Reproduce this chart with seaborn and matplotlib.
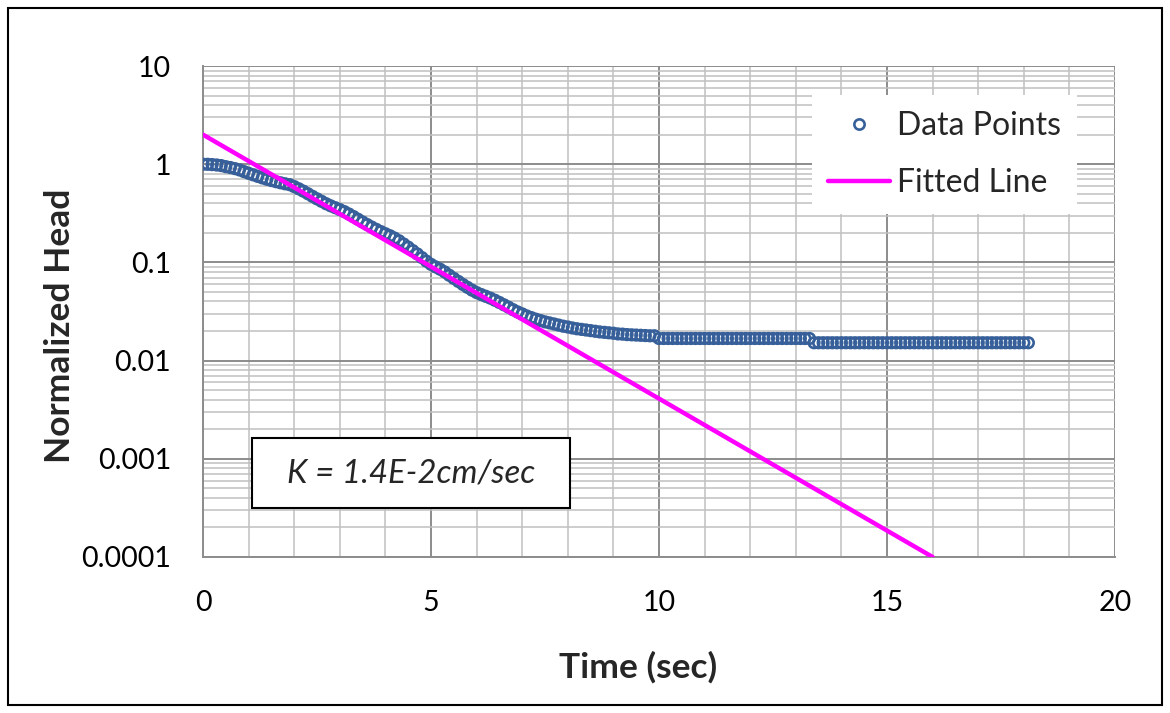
import numpy as np
import pandas as pd
import matplotlib
matplotlib.use("Agg")
import matplotlib.pyplot as plt
from matplotlib.lines import Line2D
from matplotlib.patches import Rectangle
from matplotlib.ticker import (FixedLocator, FixedFormatter, MultipleLocator,
                               LogLocator, NullFormatter)
import seaborn as sns

# Slug test record: logger sampled every 0.1 s
SAMPLE_INTERVAL_S = 0.1
normalized_head = [
    1.000, 0.998, 0.991, 0.982, 0.968, 0.944, 0.925, 0.902, 0.875, 0.841,
    0.809, 0.780, 0.752, 0.726, 0.703, 0.682, 0.664, 0.647, 0.632, 0.619,
    0.592, 0.562, 0.532, 0.501, 0.471, 0.444, 0.419, 0.396, 0.377, 0.361,
    0.345, 0.329, 0.311, 0.293, 0.275, 0.258, 0.243, 0.229, 0.217, 0.206,
    0.196, 0.187, 0.177, 0.166, 0.154, 0.143, 0.132, 0.122, 0.112, 0.103,
    0.0955, 0.0900, 0.0852, 0.0800, 0.0740, 0.0688, 0.0640, 0.0596, 0.0557, 0.0522,
    0.0493, 0.0471, 0.0452, 0.0433, 0.0412, 0.0391, 0.0370, 0.0350, 0.0330, 0.0313,
    0.0299, 0.0285, 0.0274, 0.0264, 0.0256, 0.0248, 0.0242, 0.0236, 0.0230, 0.0224,
    0.0220, 0.0215, 0.0211, 0.0208, 0.0205, 0.0202, 0.0199, 0.0196, 0.0194, 0.0192,
    0.0190, 0.0187, 0.0186, 0.0184, 0.0183, 0.0182, 0.0181, 0.0180, 0.0179, 0.0179,
    0.0168, 0.0168, 0.0168, 0.0168, 0.0168, 0.0168, 0.0168, 0.0168, 0.0168, 0.0168,
    0.0168, 0.0168, 0.0168, 0.0168, 0.0168, 0.0168, 0.0168, 0.0168, 0.0168, 0.0168,
    0.0168, 0.0168, 0.0168, 0.0168, 0.0168, 0.0168, 0.0168, 0.0168, 0.0168, 0.0168,
    0.0168, 0.0168, 0.0168, 0.0168, 0.0152, 0.0152, 0.0152, 0.0152, 0.0152, 0.0152,
    0.0152, 0.0152, 0.0152, 0.0152, 0.0152, 0.0152, 0.0152, 0.0152, 0.0152, 0.0152,
    0.0152, 0.0152, 0.0152, 0.0152, 0.0152, 0.0152, 0.0152, 0.0152, 0.0152, 0.0152,
    0.0152, 0.0152, 0.0152, 0.0152, 0.0152, 0.0152, 0.0152, 0.0152, 0.0152, 0.0152,
    0.0152, 0.0152, 0.0152, 0.0152, 0.0152, 0.0152, 0.0152, 0.0152, 0.0152, 0.0152,
    0.0152, 0.0152,
]
time_s = np.round(np.arange(len(normalized_head)) * SAMPLE_INTERVAL_S, 1)

# Straight-line fit on the semi-log plot (end points)
fit_time = [0.0, 16.0]
fit_head = [2.0, 0.0001]

x_ticks = [0, 5, 10, 15, 20]
y_ticks = [10, 1, 0.1, 0.01, 0.001, 0.0001]
y_tick_labels = ["10", "1", "0.1", "0.01", "0.001", "0.0001"]
series_labels = ["Data Points", "Fitted Line"]
annotation = "K = 1.4E-2cm/sec"

BLUE = "#37609a"
MAGENTA = "#ff00ff"
GRID_MAJOR = "#8c8c8c"
GRID_MINOR = "#c0c0c0"

sns.set_style("white")
plt.rcParams["font.family"] = ["Lato", "DejaVu Sans"]
FS_TICK = 20.5
FS_TEXT = 23
FS_LABEL = 25.5

data = pd.DataFrame({"time": time_s, "head": normalized_head})
fit = pd.DataFrame({"time": fit_time, "head": fit_head})

fig = plt.figure(figsize=(11.7, 7.13), dpi=100)
ax = fig.add_axes([0.1735, 0.2188, 0.7795, 0.6886])
ax.set_yscale("log")

sns.scatterplot(data=data, x="time", y="head", ax=ax, marker="o", s=58,
                color=BLUE, facecolor="none", edgecolor=BLUE, linewidth=1.9,
                zorder=3, legend=False)
sns.lineplot(data=fit, x="time", y="head", ax=ax, color=MAGENTA, lw=3.2,
             zorder=4, legend=False)

ax.set_xlim(x_ticks[0], x_ticks[-1])
ax.set_ylim(y_ticks[-1], y_ticks[0])

ax.xaxis.set_major_locator(FixedLocator(x_ticks))
ax.xaxis.set_minor_locator(MultipleLocator(1))
ax.yaxis.set_major_locator(FixedLocator(y_ticks))
ax.yaxis.set_major_formatter(FixedFormatter(y_tick_labels))
ax.yaxis.set_minor_locator(LogLocator(base=10, subs=np.arange(2, 10), numticks=20))
ax.yaxis.set_minor_formatter(NullFormatter())

ax.set_axisbelow(True)
ax.grid(which="minor", color=GRID_MINOR, lw=1.1)
ax.grid(which="major", color=GRID_MAJOR, lw=1.4)

for side in ("top", "right"):
    ax.spines[side].set_visible(False)
for side in ("left", "bottom"):
    ax.spines[side].set_color(GRID_MAJOR)
    ax.spines[side].set_linewidth(1.4)

ax.tick_params(axis="both", which="minor", length=0)
ax.tick_params(axis="y", which="major", direction="out", length=7, width=1.4,
               color=GRID_MAJOR, pad=16, labelsize=FS_TICK, labelcolor="black")
ax.tick_params(axis="x", which="major", direction="out", length=6, width=1.4,
               color=GRID_MAJOR, pad=18, labelsize=FS_TICK, labelcolor="black")

ax.set_xlabel("Time (sec)", fontsize=FS_LABEL, fontweight="bold", va="center")
ax.set_ylabel("Normalized Head", fontsize=FS_LABEL, fontweight="bold", va="center")
ax.xaxis.set_label_coords(0.477, -0.224)
ax.yaxis.set_label_coords(-0.157, 0.47)

handles = [
    Line2D([], [], marker="o", ls="", mfc="none", mec=BLUE, mew=1.9, ms=7.4),
    Line2D([], [], color=MAGENTA, lw=3.2),
]
ax.legend(handles, series_labels, loc="upper left",
          bbox_to_anchor=(812 / 1170, 1 - 95 / 713), bbox_transform=fig.transFigure,
          frameon=True, fancybox=False, facecolor="white", edgecolor="none",
          framealpha=1, fontsize=FS_TEXT, handlelength=1.95, handletextpad=0.2,
          labelspacing=0.85, borderpad=0.5, borderaxespad=0)

# Result box with the hydraulic conductivity
ax.add_patch(Rectangle((0.0537, 0.0998), 0.3487, 0.1426, transform=ax.transAxes,
                       facecolor="white", edgecolor="black", lw=1.5, zorder=5))
ax.text(0.228, 0.171, annotation, transform=ax.transAxes, ha="center",
        va="center", fontsize=FS_TEXT + 0.8, fontstyle="italic", zorder=6)

# Chart frame around the whole figure
fig.patches.append(Rectangle((8 / 1170, 8 / 713), 1154 / 1170, 697 / 713,
                             transform=fig.transFigure, fill=False,
                             edgecolor="black", lw=1.5))

fig.savefig("out.png", dpi=100, facecolor="white")
